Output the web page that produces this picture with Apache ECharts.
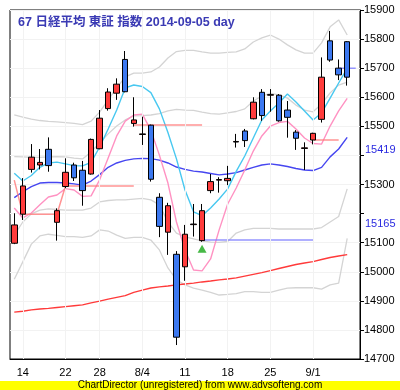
<!DOCTYPE html>
<html><head><meta charset="utf-8">
<script src="https://cdn.jsdelivr.net/npm/echarts@6.0.0/dist/echarts.min.js"></script>
<style>html,body{margin:0;padding:0;background:#fff}#c{width:400px;height:390px}</style>
</head><body><div id="c"></div>
<script>
const categories = ['7/11','7/14','7/15','7/16','7/17','7/18','7/22','7/23','7/24','7/25','7/28','7/29','7/30','7/31','8/1','8/4','8/5','8/6','8/7','8/8','8/11','8/12','8/13','8/14','8/15','8/18','8/19','8/20','8/21','8/22','8/25','8/26','8/27','8/28','8/29','9/1','9/2','9/3','9/4','9/5','9/8'];
const tickLabels = {'7/14':'14','7/22':'22','7/28':'28','8/4':'8/4','8/11':'11','8/18':'18','8/25':'25','9/1':'9/1'};
const yTicksHidden = [15400, 15200];
const axisMarks = [15419, 15165];

const open  = [15098,15198,15352,15367,15421,15170,15293,15367,15349,15336,15423,15561,15614,15730,15510,15472,15504,15256,15136,15060,15017,15162,15107,15279,15315,15313,15446,15484,15526,15617,15607,15607,15556,15480,15424,15453,15524,15794,15700,15791];
const close = [15161,15295,15394,15376,15365,15210,15342,15323,15279,15455,15528,15618,15645,15619,15522,15474,15318,15156,15227,14775,15129,15164,15210,15310,15317,15321,15448,15451,15583,15537,15609,15519,15531,15459,15426,15476,15669,15728,15677,15669];
const low   = [15095,15178,15341,15352,15344,15107,15287,15312,15227,15334,15421,15554,15591,15617,15499,15436,15310,15119,15058,14748,14969,15121,15103,15270,15272,15298,15427,15429,15524,15519,15550,15516,15461,15419,15350,15438,15513,15722,15659,15640];
const high  = [15201,15322,15439,15422,15462,15218,15390,15375,15381,15458,15556,15631,15665,15759,15600,15533,15506,15270,15237,15071,15161,15233,15233,15336,15325,15364,15474,15491,15600,15628,15628,15611,15587,15487,15445,15478,15737,15828,15730,15793];

const lineCyan = [15339,15312,15331,15359,15374,15377,15371,15365,15364,15376,15429,15491,15556,15632,15642,15637,15616,15560,15479,15388,15281,15206,15193,15219,15250,15285,15345,15398,15460,15522,15553,15580,15611,15584,15553,15522,15546,15597,15649,15699];
const linePink = [15219,15185,15202,15230,15257,15264,15286,15281,15259,15261,15316,15391,15467,15518,15539,15542,15487,15401,15305,15171,15075,15006,15003,15044,15144,15233,15288,15350,15415,15467,15501,15513,15517,15491,15460,15441,15439,15501,15553,15596];
const lineBlue = [15255,15275,15293,15305,15307,15307,15305,15302,15298,15312,15334,15359,15374,15383,15388,15390,15389,15384,15374,15360,15352,15346,15343,15338,15333,15336,15341,15350,15359,15367,15371,15367,15362,15355,15350,15348,15359,15395,15422,15462];
const lineRed = [14861,14864,14869,14872,14874,14877,14880,14883,14886,14893,14899,14906,14912,14918,14929,14937,14944,14948,14951,14955,14958,14961,14965,14968,14972,14975,14979,14985,14991,14997,15004,15011,15018,15025,15030,15035,15042,15049,15054,15059];
const bandUp2 = [15539,15532,15525,15520,15517,15515,15513,15510,15506,15518,15549,15591,15632,15670,15683,15683,15687,15704,15735,15757,15761,15761,15756,15752,15752,15754,15756,15766,15790,15804,15814,15800,15780,15763,15752,15752,15787,15842,15866,15814];
const bandUp1 = [15396,15395,15393,15393,15395,15396,15395,15391,15388,15412,15443,15474,15501,15522,15536,15537,15539,15544,15553,15558,15556,15555,15549,15544,15542,15546,15551,15560,15587,15604,15613,15608,15597,15573,15556,15550,15577,15615,15642,15652];
const bandLo1 = [15126,15171,15199,15212,15216,15214,15212,15212,15212,15219,15240,15245,15247,15247,15250,15252,15247,15230,15171,15133,15120,15113,15106,15102,15101,15104,15133,15144,15149,15149,15149,15147,15147,15147,15147,15147,15152,15171,15190,15285];
const bandLo2 = [14974,15034,15095,15123,15129,15125,15121,15121,15118,15123,15144,15140,15126,15115,15118,15118,15109,15075,15013,14972,14955,14944,14937,14929,14920,14922,14925,14932,14932,14929,14929,14937,14944,14945,14945,14945,14940,14955,14961,15115];

const N = null;
const stepRed1 = [15315,15198,15198,15198,15198,15198,15295,15295,15295,15295,15295,15295,15295,15295,15295];
const stepRed2 = [N,N,N,N,N,N,N,N,N,N,N,N,N,N,15505,15505,15505,15505,15505,15505,15505,15505,15505];
const stepBlue1 = [N,N,N,N,N,N,N,N,N,N,N,N,N,N,N,N,N,N,N,N,N,N,15109,15109,15109,15109,15109,15109,15109,15109,15109,15109,15109,15109,15109,15109];
const stepRed3 = [N,N,N,N,N,N,N,N,N,N,N,N,N,N,N,N,N,N,N,N,N,N,N,N,N,N,N,N,N,N,N,N,N,N,N,15453,15453,15453,15453];
const stepBlue2 = [N,N,N,N,N,N,N,N,N,N,N,N,N,N,N,N,N,N,N,N,N,N,N,N,N,N,N,N,N,N,N,N,N,N,N,N,N,N,15700,15700,15700];
const signalUp = [['8/13', 15079]];

const FONT = 'Liberation Sans, Arial, sans-serif';
const chart = echarts.init(document.getElementById('c'), null, {renderer:'canvas'});

function mkLine(name, data, color, width, z) {
  return {name, type:'line', data, symbol:'none', showSymbol:false, silent:true,
    lineStyle:{color, width}, z, connectNulls:false, animation:false};
}

const candleData = open.map((o,i)=>[o, close[i], low[i], high[i]]);

chart.setOption({
  animation:false,
  backgroundColor:'#ffffff',
  title:{text:'67 日経平均 東証 指数 2014-09-05 day', left:18, top:16, padding:0,
    textStyle:{color:'#3a3ab4', fontSize:12.5, fontWeight:'bold', fontFamily:'Liberation Sans, "Noto Sans CJK JP", sans-serif'}},
  grid:{left:10, right:40, top:10, bottom:31, show:true, borderColor:'#000', borderWidth:1, backgroundColor:'#fff', containLabel:false},
  xAxis:{type:'category', data:categories, boundaryGap:true,
    axisLine:{show:true, lineStyle:{color:'#000', width:1}},
    axisTick:{show:false},
    splitLine:{show:false},
    axisLabel:{interval:0, margin:8, color:'#000', fontSize:11, fontFamily:FONT,
      formatter:(v)=> tickLabels[v] || ''}},
  yAxis:{type:'value', position:'right', min:14700, max:15900, interval:100, scale:true,
    axisLine:{show:true, lineStyle:{color:'#000', width:1}},
    axisTick:{show:true, inside:false, length:4, lineStyle:{color:'#000'}},
    splitLine:{show:true, lineStyle:{color:'#f2f2f2', width:1}},
    axisLabel:{color:'#000', fontSize:11, fontFamily:FONT, margin:4,
      formatter:(v)=> yTicksHidden.includes(v) ? '' : String(v)}},
  graphic:[
    {type:'rect', left:0, top:381, shape:{width:400, height:9}, style:{fill:'#ffff00'}, silent:true},
    {type:'text', left:'center', top:380, style:{text:'ChartDirector (unregistered) from www.advsofteng.com', fill:'#000', font:'10px '+FONT}, silent:true}
  ],
  series:[
    Object.assign(mkLine('bandUp2', bandUp2, '#d4d4d4', 1.3, 2), {
      markLine:{silent:true, symbol:'none', animation:false, label:{show:false},
        lineStyle:{color:'#f2f2f2', width:1, type:'solid'},
        data: Object.keys(tickLabels).map(k=>({xAxis:k}))}
    }),
    mkLine('bandUp1', bandUp1, '#d4d4d4', 1.3, 2),
    mkLine('bandLo1', bandLo1, '#d4d4d4', 1.3, 2),
    mkLine('bandLo2', bandLo2, '#d4d4d4', 1.3, 2),
    mkLine('ma75', lineRed, '#ff3a3a', 1.4, 3),
    Object.assign(mkLine('ma25', lineBlue, '#4646f0', 1.4, 3), {
      markLine:{silent:true, symbol:'none', animation:false,
        lineStyle:{color:'rgba(255,255,255,0)', width:1, type:'solid'},
        label:{show:true, position:'end', distance:5, color:'#2a2ae0', fontSize:11, fontFamily:FONT, formatter:'{c}'},
        data: axisMarks.map(v=>({yAxis:v}))}
    }),
    mkLine('pink', linePink, '#ff92c2', 1.4, 3),
    mkLine('cyan', lineCyan, '#48c8f0', 1.4, 3),
    mkLine('stepRed1', stepRed1, 'rgba(255,120,120,0.8)', 1.5, 3),
    mkLine('stepRed2', stepRed2, 'rgba(255,120,120,0.8)', 1.5, 3),
    mkLine('stepRed3', stepRed3, 'rgba(255,120,120,0.8)', 1.5, 3),
    mkLine('stepBlue1', stepBlue1, 'rgba(130,130,255,0.85)', 1.5, 3),
    mkLine('stepBlue2', stepBlue2, 'rgba(130,130,255,0.85)', 1.5, 3),
    {name:'price', type:'candlestick', data:candleData, barWidth:6, z:5, silent:true,
      itemStyle:{color:'#ff3c3c', color0:'#3c78f0', borderColor:'#000', borderColor0:'#000', borderColorDoji:'#000', borderWidth:1}},
    {name:'signal', type:'scatter', data:signalUp, symbol:'triangle', symbolSize:[9,8], z:6, silent:true,
      itemStyle:{color:'#18a818'}}
  ]
});
</script></body></html>
